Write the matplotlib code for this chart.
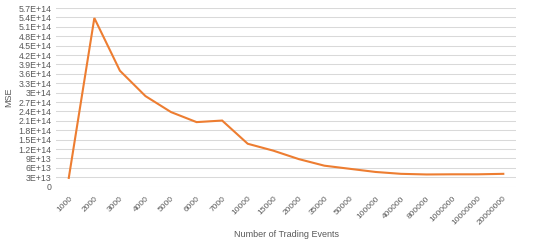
import matplotlib.pyplot as plt
from matplotlib.ticker import FixedLocator

# data
events = ['1000', '2000', '3000', '4000', '5000', '6000', '7000', '10000', '15000',
          '20000', '35000', '50000', '100000', '400000', '800000', '1000000',
          '10000000', '20000000']
mse = [2.8e13, 5.38e14, 3.70e14, 2.89e14, 2.38e14, 2.06e14, 2.11e14, 1.37e14, 1.15e14,
       8.8e13, 6.7e13, 5.7e13, 4.7e13, 4.1e13, 3.9e13, 3.95e13, 3.95e13, 4.1e13]
y_ticks = [i * 3e13 for i in range(20)]
y_labels = ['0', '3E+13', '6E+13', '9E+13', '1.2E+14', '1.5E+14', '1.8E+14', '2.1E+14',
            '2.4E+14', '2.7E+14', '3E+14', '3.3E+14', '3.6E+14', '3.9E+14', '4.2E+14',
            '4.5E+14', '4.8E+14', '5.1E+14', '5.4E+14', '5.7E+14']

plt.rcParams['font.family'] = ['Liberation Sans', 'DejaVu Sans']
text_col = '#595959'

fig = plt.figure(figsize=(5.4, 2.45), dpi=100)
ax = fig.add_axes([0.1037, 0.238, 0.852, 0.7293])

x = list(range(len(events)))
ax.plot(x, mse, color='#ED7D31', linewidth=1.5, solid_joinstyle='miter')

ax.set_xlim(-0.5, len(events) - 0.5)
ax.set_ylim(0, 5.7e14)
ax.yaxis.set_major_locator(FixedLocator(y_ticks))
ax.set_yticklabels(y_labels)
ax.set_xticks(x)
ax.set_xticklabels(events, rotation=45, ha='right', rotation_mode='anchor')

ax.grid(axis='y', color='#D9D9D9', linewidth=0.75)
ax.set_axisbelow(True)
for s in ax.spines.values():
    s.set_visible(False)
ax.tick_params(length=0, labelsize=6.3, colors=text_col)
ax.tick_params(axis='x', pad=6, labelsize=6.0)
ax.tick_params(axis='y', pad=3)

ax.set_xlabel('Number of Trading Events', fontsize=6.5, color=text_col, labelpad=2)
ax.set_ylabel('MSE', fontsize=6.5, color=text_col, labelpad=4)

fig.savefig('out.png', dpi=100)
